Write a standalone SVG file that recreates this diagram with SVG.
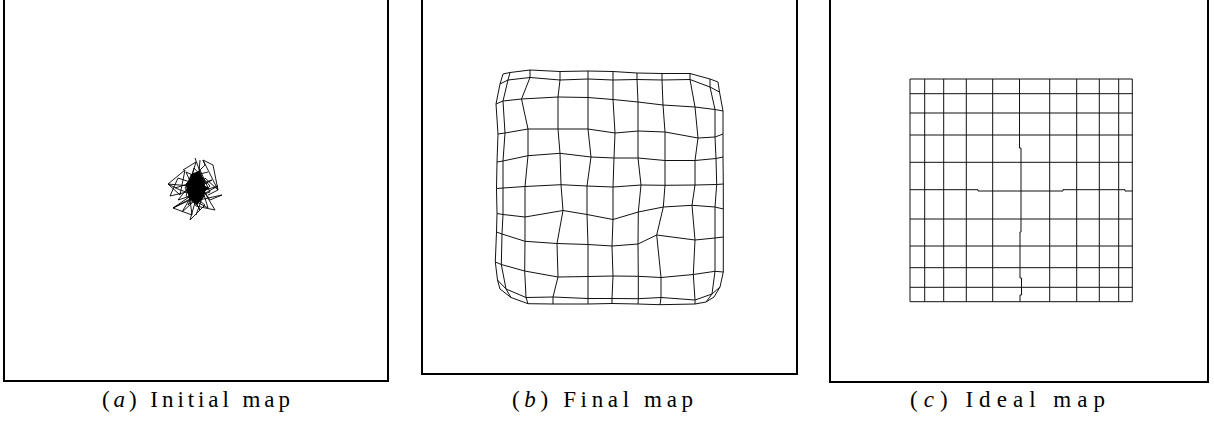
<svg xmlns="http://www.w3.org/2000/svg" width="1214" height="429" viewBox="0 0 1214 429">
<style>
.frame{fill:none;stroke:#000;stroke-width:2}
.grid{fill:none;stroke:#111;stroke-width:1;stroke-linejoin:round}
.tangle{fill:none;stroke:#000;stroke-width:0.9;stroke-linejoin:miter}
.cap{font-family:"Liberation Serif","Times New Roman",serif;font-size:23px;fill:#000}
</style>
<rect width="1214" height="429" fill="#fff"/>
<g id="panel-a">
<rect class="frame" x="4" y="-10" width="384" height="391"/>
<g id="initial-map">
<polygon points="191,174 199,171 205,182 204,197 197,205 189,199 186,186" fill="#000"/>
<polygon points="194,180 209,188 200,196" fill="#000"/>
<path class="tangle" d="M195,158 L203,180 L186,172 L196,195 L180,190 L168,184 L190,186 L200,170 L210,192 L188,200 L173,208 L192,195 L205,205 L190,220 L198,192"/>
<path class="tangle" d="M203,160 L213,165 L218,190 L205,178 L199,200 L222,195 L210,200 L200,185 L215,210 L196,206 L185,188 L192,176 L208,172"/>
<path class="tangle" d="M183,170 L196,162 L190,182 L178,178 L170,196 L195,190 L182,212 L200,196 L218,186 L205,190 L196,215"/>
<path class="tangle" d="M175,188 L200,180 L188,205 L210,186 L194,168 L186,196 L208,208 L198,175 L178,200 L203,192"/>
<path class="tangle" d="M200,160 L198,185 L212,180 L190,192 L200,210 L186,184 L205,165 L203,160"/>
<path class="tangle" d="M168,184 L185,170 L180,195 L168,184 M173,208 L190,200 L192,215 L173,208 M203,160 L218,190 L208,195"/>
</g>
<text class="cap" x="102" y="407" textLength="188" lengthAdjust="spacing">(<tspan font-style="italic">a</tspan>) Initial map</text>
</g>
<g id="panel-b">
<rect class="frame" x="422" y="-10" width="375" height="384" stroke="#222"/>
<g id="final-map" class="grid">
<polyline points="503,74 510,72.5 530,70 560,71.5 588,71 613,71.5 637,73 662,73.5 690,73.5 710,79 718,82"/>
<polyline points="500,84 508,80 530,77.5 560,80 588,79 613,80 637,79.5 662,80 690,79.5 710,87 719.5,92"/>
<polyline points="496,104 503,101 521.5,99 558,97 588,97.5 613,99.5 638,102 663,105 695,107 715,109.5 723,111"/>
<polyline points="498,134 505,133 528,129 558,129 588,129 615,133 638,131 665,132 698,138 715,137 723,134"/>
<polyline points="497,162 503,161 528,155.7 560,153.3 591,157 614,158 638,158 665,160.5 695,160.5 716,158.5 723,157"/>
<polyline points="496.5,188.5 503,188 525,186.5 561,184.7 587,186 613,187 641,185 665,185.3 695,185 716.7,184.5 723.3,184"/>
<polyline points="497,213.5 503,214.5 525,217 563,210.5 587,214.5 613,219.5 638.3,212 663.3,207 692,205.3 715,207 723.3,209"/>
<polyline points="496.5,232 502,234 525,241.3 557,243.5 588,244.5 612,246 638,244 656.7,235 695,240 715,238 723.3,237"/>
<polyline points="495.3,262 501.3,264.5 524.7,271 558,277 588,276.5 613,276 638.3,276.3 661,277.5 693.3,274.5 715,271.3 723.3,272"/>
<polyline points="497.5,280 506,289 526,297.5 553,297 588,298.5 612,298.5 638.3,298.7 661,297.5 695,300 712,294 720,287"/>
<polyline points="500,289 511,297.5 528,303.7 553,304 588,304 612,303.5 638,304 660,304.7 695,304 706,302 714,297"/>
<polyline points="503,74 500,84 496,104 498,134 497,162 496.5,188.5 497,213.5 496.5,232 495.3,262 497.5,280 500,289"/>
<polyline points="510,72.5 508,80 503,101 505,133 503,161 503,188 503,214.5 502,234 501.3,264.5 506,289 511,297.5"/>
<polyline points="530,70 530,77.5 521.5,99 528,129 528,155.7 525,186.5 525,217 525,241.3 524.7,271 526,297.5 528,303.7"/>
<polyline points="560,71.5 560,80 558,97 558,129 560,153.3 561,184.7 563,210.5 557,243.5 558,277 553,297 553,304"/>
<polyline points="588,71 588,79 588,97.5 588,129 591,157 587,186 587,214.5 588,244.5 588,276.5 588,298.5 588,304"/>
<polyline points="613,71.5 613,80 613,99.5 615,133 614,158 613,187 613,219.5 612,246 613,276 612,298.5 612,303.5"/>
<polyline points="637,73 637,79.5 638,102 638,131 638,158 641,185 638.3,212 638,244 638.3,276.3 638.3,298.7 638,304"/>
<polyline points="662,73.5 662,80 663,105 665,132 665,160.5 665,185.3 663.3,207 656.7,235 661,277.5 661,297.5 660,304.7"/>
<polyline points="690,73.5 690,79.5 695,107 698,138 695,160.5 695,185 692,205.3 695,240 693.3,274.5 695,300 695,304"/>
<polyline points="710,79 710,87 715,109.5 715,137 716,158.5 716.7,184.5 715,207 715,238 715,271.3 712,294 706,302"/>
<polyline points="718,82 719.5,92 723,111 723,134 723,157 723.3,184 723.3,209 723.3,237 723.3,272 720,287 714,297"/>
</g>
<text class="cap" x="512" y="407" textLength="181" lengthAdjust="spacing">(<tspan font-style="italic">b</tspan>) Final map</text>
</g>
<g id="panel-c">
<rect class="frame" x="830" y="-10" width="378" height="392"/>
<g id="ideal-map" class="grid">
<rect x="910" y="79" width="222.3" height="222.7"/>
<line x1="924.7" y1="79" x2="924.7" y2="301.7"/>
<line x1="943.7" y1="79" x2="943.7" y2="301.7"/>
<line x1="966.3" y1="79" x2="966.3" y2="301.7"/>
<line x1="992.7" y1="79" x2="992.7" y2="301.7"/>
<polyline points="1019.5,79 1019.5,148 1021,148 1021,232 1020,232 1020,278 1021.5,278 1021.5,295 1020,295 1020,301.7"/>
<line x1="1049.7" y1="79" x2="1049.7" y2="301.7"/>
<line x1="1076.7" y1="79" x2="1076.7" y2="301.7"/>
<line x1="1099.3" y1="79" x2="1099.3" y2="301.7"/>
<line x1="1118.7" y1="79" x2="1118.7" y2="301.7"/>
<line x1="910" y1="93.7" x2="1132.3" y2="93.7"/>
<line x1="910" y1="113" x2="1132.3" y2="113"/>
<line x1="910" y1="135" x2="1132.3" y2="135"/>
<line x1="910" y1="162.3" x2="1132.3" y2="162.3"/>
<polyline points="910,189.7 978,189.7 978,191 1063,191 1063,189.7 1125,189.7 1125,191 1132.3,191"/>
<line x1="910" y1="219" x2="1132.3" y2="219"/>
<line x1="910" y1="246" x2="1132.3" y2="246"/>
<line x1="910" y1="267.7" x2="1132.3" y2="267.7"/>
<line x1="910" y1="287.3" x2="1132.3" y2="287.3"/>
</g>
<text class="cap" x="910" y="407" textLength="195" lengthAdjust="spacing">(<tspan font-style="italic">c</tspan>) Ideal map</text>
</g>
</svg>
